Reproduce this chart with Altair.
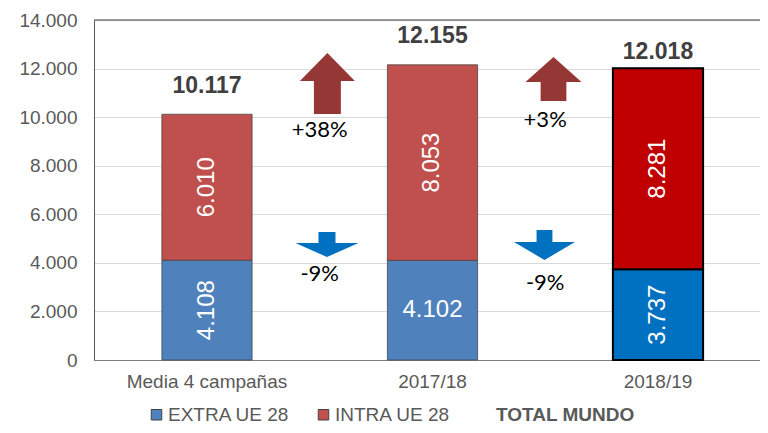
import altair as alt
import pandas as pd

# ---- data ----
categories = ["Media 4 campañas", "2017/18", "2018/19"]
extra_ue = [4108, 4102, 3737]
intra_ue = [6010, 8053, 8281]
totals = [10117, 12155, 12018]
series = ["EXTRA UE 28", "INTRA UE 28"]
legend_entries = ["EXTRA UE 28", "INTRA UE 28", "TOTAL MUNDO"]
# change between consecutive campaigns (left category of each pair)
change_from = ["Media 4 campañas", "2017/18"]
change_intra = ["+38%", "+3%"]
change_extra = ["-9%", "-9%"]

# annotation anchor values (data units on the y scale)
arrow_up_at = [11385, 11570]
arrow_down_at = [4756, 4735]
label_up_at = [9471, 9882]
label_down_at = [3521, 3191]

# ---- tables ----
rows = []
for c, e, i in zip(categories, extra_ue, intra_ue):
    rows.append({"cat": c, "serie": series[0], "value": e, "y0": 0, "y1": e})
    rows.append({"cat": c, "serie": series[1], "value": i, "y0": e, "y1": e + i})
df = pd.DataFrame(rows)
df["mid"] = (df["y0"] + df["y1"]) / 2

df_tot = pd.DataFrame({"cat": categories, "total": totals})

fmt = "replace(format(datum.{f}, ','), ',', '.')"

x_enc = alt.X(
    "cat:N",
    sort=categories,
    title=None,
    scale=alt.Scale(paddingInner=0.6, paddingOuter=0.2767, align=0.544),
    axis=alt.Axis(
        labelAngle=0, labelFont="Liberation Sans", labelFontSize=19,
        labelColor="#595959", labelPadding=12, ticks=False,
        domainColor="#7f7f7f", domainWidth=1,
    ),
)
y_scale = alt.Scale(domain=[0, 14000])
y_enc = alt.Y(
    "y0:Q",
    scale=y_scale,
    title=None,
    axis=alt.Axis(
        values=list(range(0, 14001, 2000)),
        labelExpr=fmt.format(f="value"),
        labelFont="Liberation Sans", labelFontSize=19, labelColor="#595959",
        labelPadding=17, ticks=False, domainColor="#595959",
        gridColor="#d9d9d9", gridWidth=1,
    ),
)

color_range = ["#4F81BD", "#C0504D", "rgba(0,0,0,0)"]

bars = alt.Chart(df).mark_bar(stroke="#404040", strokeWidth=0.75).encode(
    x=x_enc,
    y=y_enc,
    y2="y1:Q",
    color=alt.Color(
        "serie:N",
        scale=alt.Scale(domain=legend_entries, range=color_range),
        legend=alt.Legend(
            title=None, orient="none", direction="horizontal",
            legendX=53, legendY=385,
            symbolType="square", symbolSize=110,
            symbolStrokeColor=alt.ExprRef("datum.label == 'TOTAL MUNDO' ? 'rgba(0,0,0,0)' : '#404040'"),
            symbolStrokeWidth=1, symbolOpacity=1,
            labelFont="Liberation Sans", labelFontSize=19, labelColor="#595959",
            labelFontWeight=alt.ExprRef("datum.label == 'TOTAL MUNDO' ? 'bold' : 'normal'"),
            labelOffset=2, columnPadding=24,
        ),
    ),
)

highlight = alt.Chart(df).transform_filter(
    "datum.cat == '2018/19'"
).transform_calculate(
    fillc="datum.serie == 'EXTRA UE 28' ? '#0070C0' : '#C00000'"
).mark_bar(stroke="black", strokeWidth=2).encode(
    x=alt.X("cat:N", sort=categories),
    y=alt.Y("y0:Q", scale=y_scale),
    y2="y1:Q",
    fill=alt.Fill("fillc:N", scale=None),
)

value_labels = alt.Chart(df).transform_calculate(
    label=fmt.format(f="value")
).mark_text(
    font="Liberation Sans", fontSize=24, color="white", baseline="middle", align="center"
).encode(
    x=alt.X("cat:N", sort=categories),
    y=alt.Y("mid:Q", scale=y_scale),
    text="label:N",
    angle=alt.condition(
        "datum.cat == '2017/18' && datum.serie == 'EXTRA UE 28'",
        alt.value(0), alt.value(270),
    ),
)

def total_layer(test, dy):
    return alt.Chart(df_tot).transform_filter(test).transform_calculate(
        label=fmt.format(f="total")
    ).mark_text(
        font="Liberation Sans", fontSize=23, fontWeight="bold", color="#404040",
        baseline="middle", align="center", dy=dy,
    ).encode(
        x=alt.X("cat:N", sort=categories),
        y=alt.Y("total:Q", scale=y_scale),
        text="label:N",
    )

tot1 = total_layer("datum.cat != '2018/19'", -28.5)
tot2 = total_layer("datum.cat == '2018/19'", -16.5)

up_shapes = [
    "M0,-1.11 L1,-0.09 L0.49,-0.09 L0.49,1.11 L-0.49,1.11 L-0.49,-0.09 L-1,-0.09 Z",
    "M0,-0.786 L1,0.107 L0.46,0.107 L0.46,0.786 L-0.46,0.786 L-0.46,0.107 L-1,0.107 Z",
]
up_sizes = [55 * 55, 56 * 56]
up_offsets = [120.4, 121]
down_shapes = [
    "M-0.27,-0.397 L0.27,-0.397 L0.27,-0.048 L1,-0.048 L0,0.397 L-1,-0.048 L-0.27,-0.048 Z",
    "M-0.26,-0.49 L0.26,-0.49 L0.26,-0.097 L1,-0.097 L0,0.49 L-1,-0.097 L-0.26,-0.097 Z",
]
down_sizes = [63 * 63, 61 * 61]
down_offsets = [120, 112]

layers = [bars, highlight, value_labels, tot1, tot2]

for k in range(2):
    d_up = pd.DataFrame({"cat": [change_from[k]], "v": [arrow_up_at[k]]})
    d_dn = pd.DataFrame({"cat": [change_from[k]], "v": [arrow_down_at[k]]})
    layers.append(
        alt.Chart(d_up).mark_point(
            shape=up_shapes[k], filled=True, fill="#953735", stroke="#953735",
            strokeWidth=0, opacity=1, size=up_sizes[k], xOffset=up_offsets[k],
        ).encode(x=alt.X("cat:N", sort=categories), y=alt.Y("v:Q", scale=y_scale))
    )
    layers.append(
        alt.Chart(d_dn).mark_point(
            shape=down_shapes[k], filled=True, fill="#0070C0", stroke="#0070C0",
            strokeWidth=0, opacity=1, size=down_sizes[k], xOffset=down_offsets[k],
        ).encode(x=alt.X("cat:N", sort=categories), y=alt.Y("v:Q", scale=y_scale))
    )

df_chg = pd.DataFrame({
    "cat": change_from * 2,
    "txt": change_intra + change_extra,
    "v": label_up_at + label_down_at,
})
layers.append(
    alt.Chart(df_chg).mark_text(
        font="Lato", fontSize=22, color="black", baseline="middle", align="center",
        xOffset=112.7,
    ).encode(
        x=alt.X("cat:N", sort=categories),
        y=alt.Y("v:Q", scale=y_scale),
        text="txt:N",
    )
)

top_line = alt.Chart(df_tot).transform_filter(
    "datum.cat == '2017/18'"
).transform_calculate(top="14000").mark_rule(color="#404040", strokeWidth=1).encode(
    y=alt.Y("top:Q", scale=y_scale)
)
layers.append(top_line)

chart = alt.layer(*layers).properties(
    width=666, height=340,
    autosize=alt.AutoSizeParams(type="none"),
    padding={"left": 86, "top": 12, "right": 0, "bottom": 65},
).configure_view(stroke=None)

chart.save("out.html", embed_options={"renderer": "svg", "actions": False})
